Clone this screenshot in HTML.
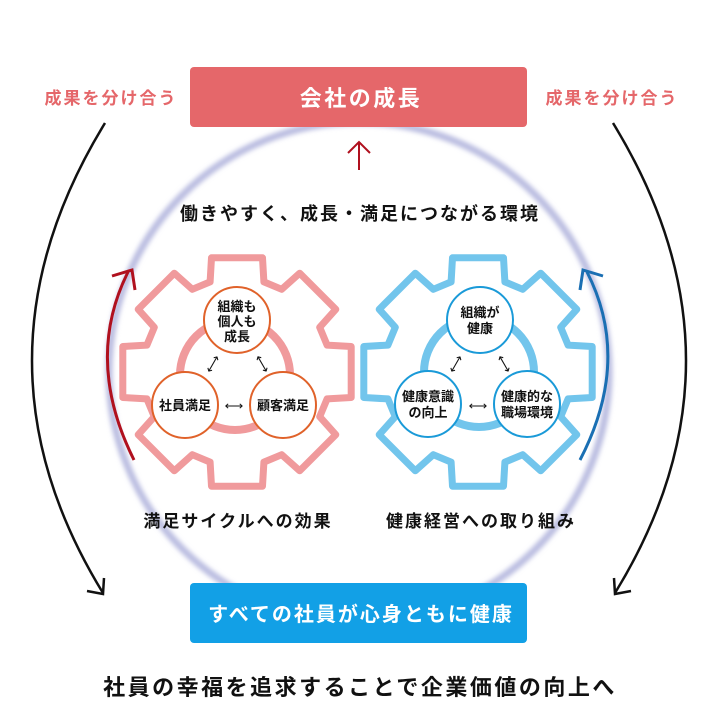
<!DOCTYPE html>
<html><head><meta charset="utf-8"><style>
html,body{margin:0;padding:0;background:#fff;}
body{width:718px;height:719px;overflow:hidden;font-family:"Liberation Sans","Noto Sans CJK JP",sans-serif;}
</style></head><body>
<svg id="s" width="718" height="719" viewBox="0 0 718 719" xmlns="http://www.w3.org/2000/svg" font-family="Liberation Sans, Noto Sans CJK JP, sans-serif">
<defs>
<filter id="bl" x="-20%" y="-20%" width="140%" height="140%"><feGaussianBlur stdDeviation="2.5"/></filter>
</defs>
<circle cx="359" cy="372" r="250" fill="none" stroke="#b9bce0" stroke-width="7" filter="url(#bl)"/>
<path d="M105,123 Q-40,360 103,593" fill="none" stroke="#111" stroke-width="2.5"/>
<polyline points="87,591 103,594 104,578" fill="none" stroke="#111" stroke-width="2.5"/>
<path d="M613,123 Q758,360 615,593" fill="none" stroke="#111" stroke-width="2.5"/>
<polyline points="631,591 615,594 614,578" fill="none" stroke="#111" stroke-width="2.5"/>
<rect x="190" y="67" width="337" height="60" rx="4" fill="#e5676a"/>
<text x="361" y="106" text-anchor="middle" font-size="22" font-weight="bold" fill="#fff" letter-spacing="2.5">会社の成長</text>
<rect x="190" y="583" width="337" height="60" rx="4" fill="#12a0e6"/>
<text x="361" y="621" text-anchor="middle" font-size="20" font-weight="bold" fill="#fff" letter-spacing="2">すべての社員が心身ともに健康</text>
<text x="111" y="104" text-anchor="middle" font-size="17" font-weight="bold" fill="#e5676a" letter-spacing="2">成果を分け合う</text>
<text x="612" y="104" text-anchor="middle" font-size="17" font-weight="bold" fill="#e5676a" letter-spacing="2">成果を分け合う</text>
<line x1="359" y1="142" x2="359" y2="170" stroke="#b0101e" stroke-width="2"/>
<polyline points="348,153 359,142 370,153" fill="none" stroke="#b0101e" stroke-width="2"/>
<text x="360" y="220" text-anchor="middle" font-size="18" font-weight="bold" fill="#111" letter-spacing="2">働きやすく、成長・満足につながる環境</text>
<path id="g1" fill="none" stroke="#f09a9c" stroke-width="7" stroke-linejoin="round"/>
<path id="g2" fill="none" stroke="#72c5ec" stroke-width="7" stroke-linejoin="round"/>
<circle cx="235" cy="375" r="55" fill="none" stroke="#f09a9c" stroke-width="8"/>
<circle cx="479" cy="372" r="55" fill="none" stroke="#72c5ec" stroke-width="8"/>
<path d="M134,460 Q84,360 128,272" fill="none" stroke="#b0101e" stroke-width="3"/>
<polyline points="112,276 132,270 135,290" fill="none" stroke="#b0101e" stroke-width="3"/>
<path d="M580,460 Q632,360 587,272" fill="none" stroke="#1a6fb3" stroke-width="3"/>
<polyline points="603,276 583,270 580,290" fill="none" stroke="#1a6fb3" stroke-width="3"/>
<g stroke="#e0622a" stroke-width="2" fill="#fff">
<circle cx="237" cy="320" r="33"/><circle cx="185" cy="405" r="33"/><circle cx="283" cy="405" r="33"/></g>
<g font-size="13" font-weight="bold" fill="#111" text-anchor="middle">
<text x="237" y="311">組織も</text><text x="237" y="326">個人も</text><text x="237" y="341">成長</text>
<text x="185" y="410">社員満足</text><text x="283" y="410">顧客満足</text>
<text x="234" y="410" font-weight="normal">⟷</text>
<text x="213" y="368" font-weight="normal" transform="rotate(-60 213 364)">⟷</text>
<text x="262" y="368" font-weight="normal" transform="rotate(60 262 364)">⟷</text>
</g>
<g stroke="#1a9ad8" stroke-width="2" fill="#fff">
<circle cx="480" cy="320" r="33"/><circle cx="428" cy="404" r="33"/><circle cx="527" cy="404" r="33"/></g>
<g font-size="13" font-weight="bold" fill="#111" text-anchor="middle">
<text x="480" y="317">組織が</text><text x="480" y="333">健康</text>
<text x="428" y="401">健康意識</text><text x="428" y="417">の向上</text>
<text x="527" y="401">健康的な</text><text x="527" y="417">職場環境</text>
<text x="478" y="410" font-weight="normal">⟷</text>
<text x="456" y="368" font-weight="normal" transform="rotate(-60 456 364)">⟷</text>
<text x="504" y="368" font-weight="normal" transform="rotate(60 504 364)">⟷</text>
</g>
<text x="238" y="527" text-anchor="middle" font-size="17" font-weight="bold" fill="#111" letter-spacing="2">満足サイクルへの効果</text>
<text x="481" y="527" text-anchor="middle" font-size="17" font-weight="bold" fill="#111" letter-spacing="2">健康経営への取り組み</text>
<text x="360" y="695" text-anchor="middle" font-size="22" font-weight="bold" fill="#111" letter-spacing="2.5">社員の幸福を追求することで企業価値の向上へ</text>
</svg>
<script>
function gear(cx,cy,R,r,n,off){var d="",step=2*Math.PI/n,to=0.22,tb=0.29;
for(var i=0;i<n;i++){var a=-Math.PI/2+off+i*step;
var pts=[[r,a-tb],[R,a-to],[R,a+to],[r,a+tb],[r,a+step-tb]];
pts.forEach(function(p,j){var x=cx+p[0]*Math.cos(p[1]),y=cy+p[0]*Math.sin(p[1]);d+=(i==0&&j==0?"M":"L")+x.toFixed(1)+","+y.toFixed(1);});}
return d+"Z";}
document.getElementById("g1").setAttribute("d",gear(237,372,117,94,8,0));
document.getElementById("g2").setAttribute("d",gear(478,372,117,94,8,0));
</script>
</body></html>
